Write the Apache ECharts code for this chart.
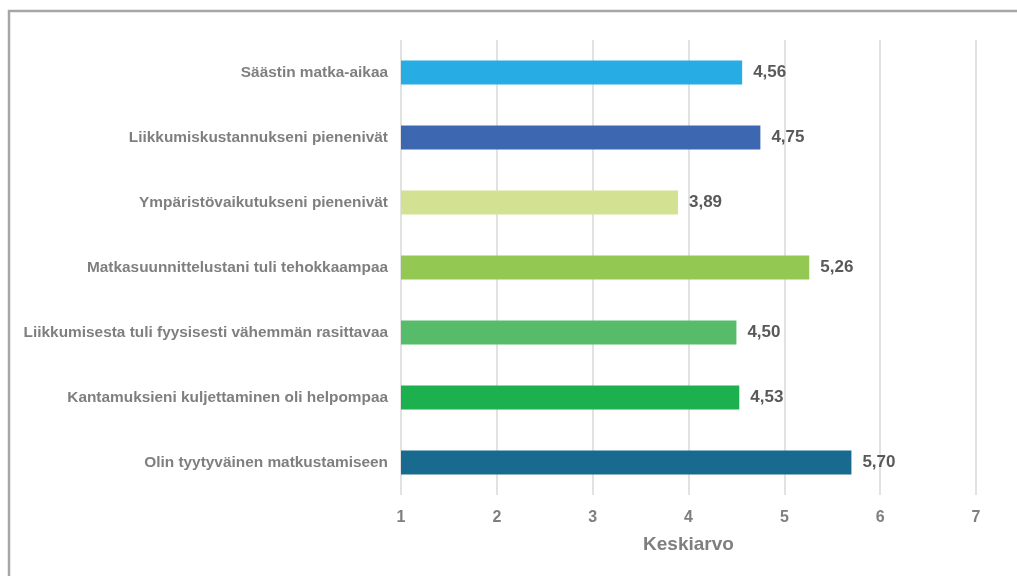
<!DOCTYPE html>
<html>
<head>
<meta charset="utf-8">
<script src="https://cdn.jsdelivr.net/npm/echarts@6/dist/echarts.min.js"></script>
<style>
  html, body { margin: 0; padding: 0; background: #ffffff; }
  #chart { width: 1017px; height: 576px; }
</style>
</head>
<body>
<div id="chart"></div>
<script>
// Statements, top to bottom
const categories = [
  'Säästin matka-aikaa',
  'Liikkumiskustannukseni pienenivät',
  'Ympäristövaikutukseni pienenivät',
  'Matkasuunnittelustani tuli tehokkaampaa',
  'Liikkumisesta tuli fyysisesti vähemmän rasittavaa',
  'Kantamuksieni kuljettaminen oli helpompaa',
  'Olin tyytyväinen matkustamiseen'
];
// Mean score per statement (scale 1–7)
const values = [4.56, 4.75, 3.89, 5.26, 4.50, 4.53, 5.70];
const barColors = ['#27ACE3', '#3D68B1', '#D2E292', '#93C853', '#56BC69', '#1DB04F', '#186B8F'];
const xTicks = [1, 2, 3, 4, 5, 6, 7];

const FONT = 'Liberation Sans, Arial, sans-serif';
const chart = echarts.init(document.getElementById('chart'));

// category axis runs bottom-up, so reverse for top-down order
const cats = categories.slice().reverse();
const data = values.map((v, i) => ({ value: v, itemStyle: { color: barColors[i] } })).reverse();

chart.setOption({
  animation: false,
  backgroundColor: '#ffffff',
  graphic: [{
    type: 'rect',
    shape: { x: 9, y: 11, width: 1040, height: 600 },
    style: { fill: 'none', stroke: '#A6A6A6', lineWidth: 2.5 },
    silent: true
  }],
  grid: { left: 401, right: 41, top: 40, bottom: 81, containLabel: false },
  xAxis: {
    type: 'value',
    min: xTicks[0],
    max: xTicks[xTicks.length - 1],
    interval: 1,
    name: 'Keskiarvo',
    nameLocation: 'middle',
    nameGap: 40,
    nameTextStyle: { fontFamily: FONT, fontWeight: 'bold', fontSize: 19, color: '#7F7F7F' },
    axisLine: { show: false },
    axisTick: { show: false },
    axisLabel: { fontFamily: FONT, fontWeight: 'bold', fontSize: 16, color: '#7F7F7F', margin: 15 },
    splitLine: { show: true, lineStyle: { color: '#D9D9D9', width: 1.5 } }
  },
  yAxis: {
    type: 'category',
    data: cats,
    axisLine: { show: false },
    axisTick: { show: false },
    axisLabel: { fontFamily: FONT, fontWeight: 'bold', fontSize: 15.4, color: '#7F7F7F', margin: 13 }
  },
  series: [{
    type: 'bar',
    data: data,
    barWidth: 24,
    label: {
      show: true,
      position: 'right',
      distance: 11,
      fontFamily: FONT,
      fontWeight: 'bold',
      fontSize: 17,
      color: '#595959',
      formatter: p => p.value.toFixed(2).replace('.', ',')
    }
  }]
});
</script>
</body>
</html>
